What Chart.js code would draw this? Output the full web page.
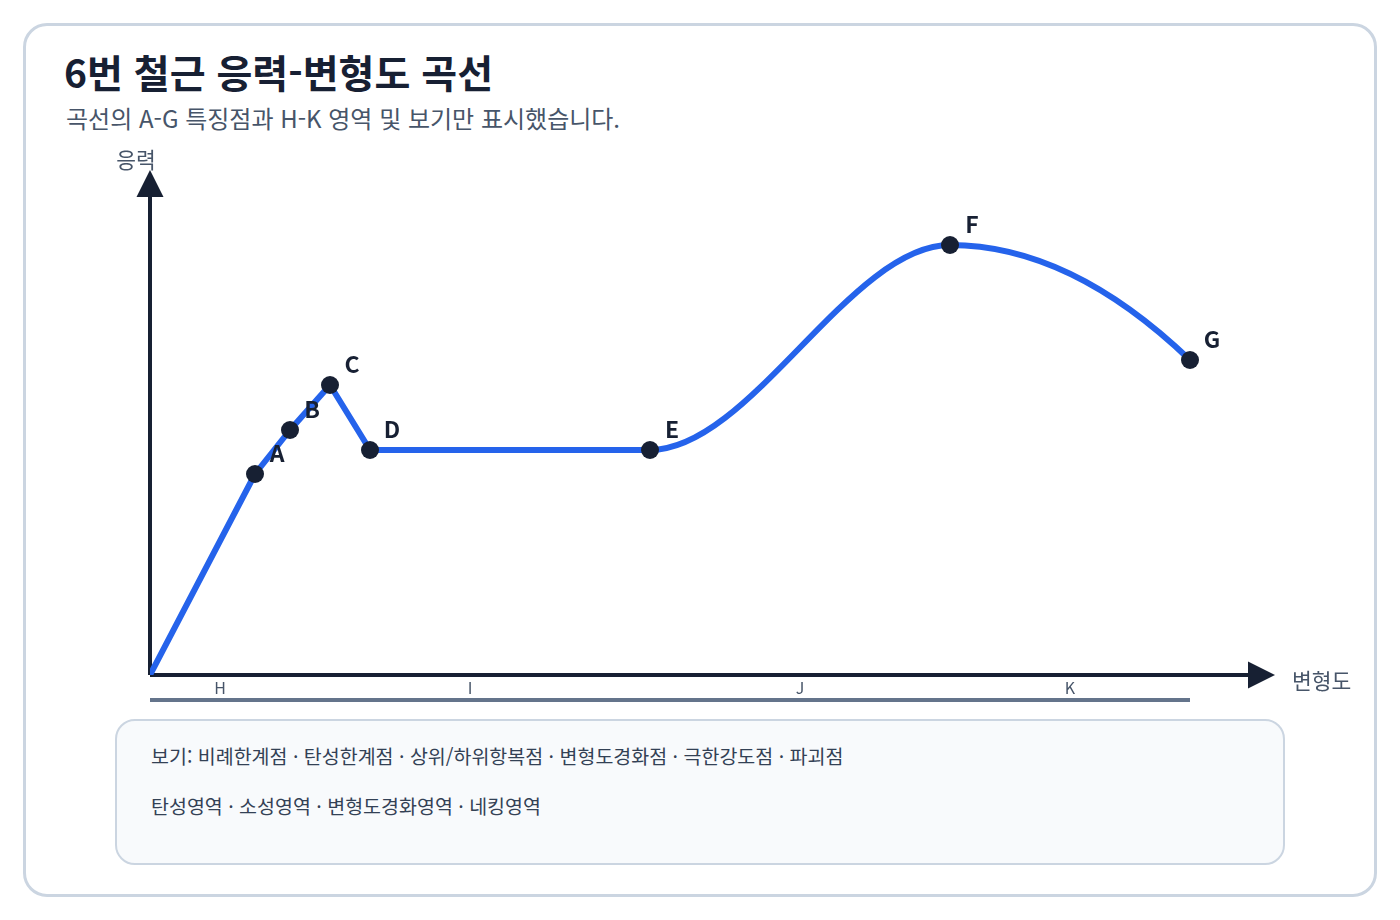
<!DOCTYPE html>
<html lang="ko">
<head>
<meta charset="UTF-8">
<title>6번 철근 응력-변형도 곡선</title>
<style>
  body {
    margin: 0;
    width: 1400px;
    height: 920px;
    background: #fff;
    font-family: "Noto Sans CJK KR", "Noto Sans", sans-serif;
    position: relative;
    overflow: hidden;
  }
  .card {
    position: absolute;
    left: 23px;
    top: 23px;
    width: 1348px;
    height: 868px;
    border: 3px solid #cbd5e1;
    border-radius: 24px;
    background: #fff;
  }
  h1 {
    position: absolute;
    left: 64px;
    top: 45px;
    margin: 0;
    font-size: 39px;
    line-height: 52px;
    font-weight: 700;
    color: #172033;
  }
  .sub {
    position: absolute;
    left: 66px;
    top: 102px;
    margin: 0;
    font-size: 24px;
    line-height: 32px;
    color: #475569;
  }
  .chartBox {
    position: absolute;
    left: 0;
    top: 140px;
    width: 1400px;
    height: 580px;
  }
  .legendBox {
    position: absolute;
    left: 115px;
    top: 719px;
    width: 1166px;
    height: 142px;
    border: 2px solid #cbd5e1;
    border-radius: 20px;
    background: #f8fafc;
  }
  .legendBox p {
    position: absolute;
    left: 34px;
    margin: 0;
    font-size: 19.5px;
    line-height: 28px;
    color: #334155;
  }
</style>
</head>
<body>
<div class="card"></div>
<h1>6번 철근 응력-변형도 곡선</h1>
<p class="sub">곡선의 A-G 특징점과 H-K 영역 및 보기만 표시했습니다.</p>
<div class="chartBox"><canvas id="curve"></canvas></div>
<div class="legendBox">
  <p style="top:21px">보기: 비례한계점 · 탄성한계점 · 상위/하위항복점 · 변형도경화점 · 극한강도점 · 파괴점</p>
  <p style="top:71px">탄성영역 · 소성영역 · 변형도경화영역 · 네킹영역</p>
</div>
<script src="https://cdn.jsdelivr.net/npm/chart.js"></script>
<script>
  // 특징점 (변형도, 응력) - 임의 단위
  const pointNames = ['A', 'B', 'C', 'D', 'E', 'F', 'G'];
  const strain = [2.1, 2.8, 3.6, 4.4, 10.0, 16.0, 20.8];
  const stress = [201, 245, 290, 225, 225, 430, 315];

  // 영역 H-K : 시작/끝 특징점
  const regionNames = ['H', 'I', 'J', 'K'];
  const regionFrom = [null, 'B', 'E', 'F'];
  const regionTo = ['B', 'E', 'F', 'G'];

  const xMax = 22.5;
  const yMax = 505;

  const navy = '#172033';
  const blue = '#2563eb';

  const pts = pointNames.map((n, i) => ({ x: strain[i], y: stress[i] }));
  const byName = n => (n === null ? { x: 0, y: 0 } : pts[pointNames.indexOf(n)]);

  // 직선 구간: 원점 ~ E
  const straightPart = [{ x: 0, y: 0 }].concat(pts.slice(0, 5));
  // 곡선 구간: D ~ G (D는 E에서 수평 접선을 주기 위해 포함)
  const curvedPart = pts.slice(3);

  const axesPlugin = {
    id: 'axesPlugin',
    beforeDatasetsDraw(chart) {
      const { ctx, scales: { x, y } } = chart;

      // 네킹 구간(F-G)은 F에서 수평, G로 갈수록 가팔라지도록 끝 접선만 조정
      const meta = chart.getDatasetMeta(1);
      meta.dataset.updateControlPoints(chart.chartArea, 'x');
      const els = meta.data;
      const f = els[els.length - 2], g = els[els.length - 1];
      g.cp1x = g.x - (g.x - f.x) / 3;
      g.cp1y = g.y - 2 * (g.y - f.y) / 3;

      const x0 = x.getPixelForValue(0), y0 = y.getPixelForValue(0);
      const xEnd = x.getPixelForValue(xMax), yEnd = y.getPixelForValue(yMax);
      ctx.save();
      ctx.strokeStyle = navy;
      ctx.fillStyle = navy;
      ctx.lineWidth = 4;
      ctx.beginPath();
      ctx.moveTo(x0, y0);
      ctx.lineTo(x0, yEnd + 20);
      ctx.moveTo(x0, y0);
      ctx.lineTo(xEnd - 20, y0);
      ctx.stroke();
      ctx.beginPath();
      ctx.moveTo(x0, yEnd);
      ctx.lineTo(x0 - 13.5, yEnd + 27);
      ctx.lineTo(x0 + 13.5, yEnd + 27);
      ctx.closePath();
      ctx.fill();
      ctx.beginPath();
      ctx.moveTo(xEnd, y0);
      ctx.lineTo(xEnd - 27, y0 - 13.5);
      ctx.lineTo(xEnd - 27, y0 + 13.5);
      ctx.closePath();
      ctx.fill();

      ctx.font = '21.5px "Noto Sans CJK KR"';
      ctx.fillStyle = '#475569';
      ctx.textBaseline = 'middle';
      ctx.textAlign = 'center';
      ctx.fillText('응력', x0 - 14, yEnd - 10);
      ctx.textAlign = 'left';
      ctx.fillText('변형도', xEnd + 17, y0 + 6);

      // 영역 라벨과 기준선
      const last = byName('G');
      ctx.strokeStyle = '#64748b';
      ctx.lineWidth = 4;
      ctx.beginPath();
      ctx.moveTo(x0, y0 + 25);
      ctx.lineTo(x.getPixelForValue(last.x), y0 + 25);
      ctx.stroke();
      ctx.font = '16px "Noto Sans CJK KR"';
      ctx.textAlign = 'center';
      regionNames.forEach((r, i) => {
        const a = byName(regionFrom[i]).x, b = byName(regionTo[i]).x;
        ctx.fillText(r, x.getPixelForValue((a + b) / 2), y0 + 13);
      });
      ctx.restore();
    },
    afterDatasetsDraw(chart) {
      const { ctx, scales: { x, y } } = chart;
      ctx.save();
      ctx.fillStyle = navy;
      pts.forEach(p => {
        ctx.beginPath();
        ctx.arc(x.getPixelForValue(p.x), y.getPixelForValue(p.y), 9, 0, Math.PI * 2);
        ctx.fill();
      });
      ctx.font = 'bold 23px "Noto Sans CJK KR"';
      ctx.textAlign = 'center';
      ctx.textBaseline = 'middle';
      pts.forEach((p, i) => {
        ctx.fillText(pointNames[i], x.getPixelForValue(p.x) + 22, y.getPixelForValue(p.y) - 21);
      });
      ctx.restore();
    }
  };

  new Chart(document.getElementById('curve'), {
    type: 'line',
    data: {
      datasets: [
        {
          data: straightPart,
          borderColor: blue,
          borderWidth: 6,
          tension: 0,
          pointRadius: 0,
          borderJoinStyle: 'round'
        },
        {
          data: curvedPart,
          borderColor: blue,
          borderWidth: 6,
          cubicInterpolationMode: 'monotone',
          pointRadius: 0
        }
      ]
    },
    options: {
      responsive: true,
      maintainAspectRatio: false,
      animation: false,
      layout: { padding: { left: 150, right: 125, top: 30, bottom: 45 } },
      plugins: { legend: { display: false }, tooltip: { enabled: false } },
      scales: {
        x: { type: 'linear', min: 0, max: xMax, display: false },
        y: { type: 'linear', min: 0, max: yMax, display: false }
      }
    },
    plugins: [axesPlugin]
  });
</script>
</body>
</html>
